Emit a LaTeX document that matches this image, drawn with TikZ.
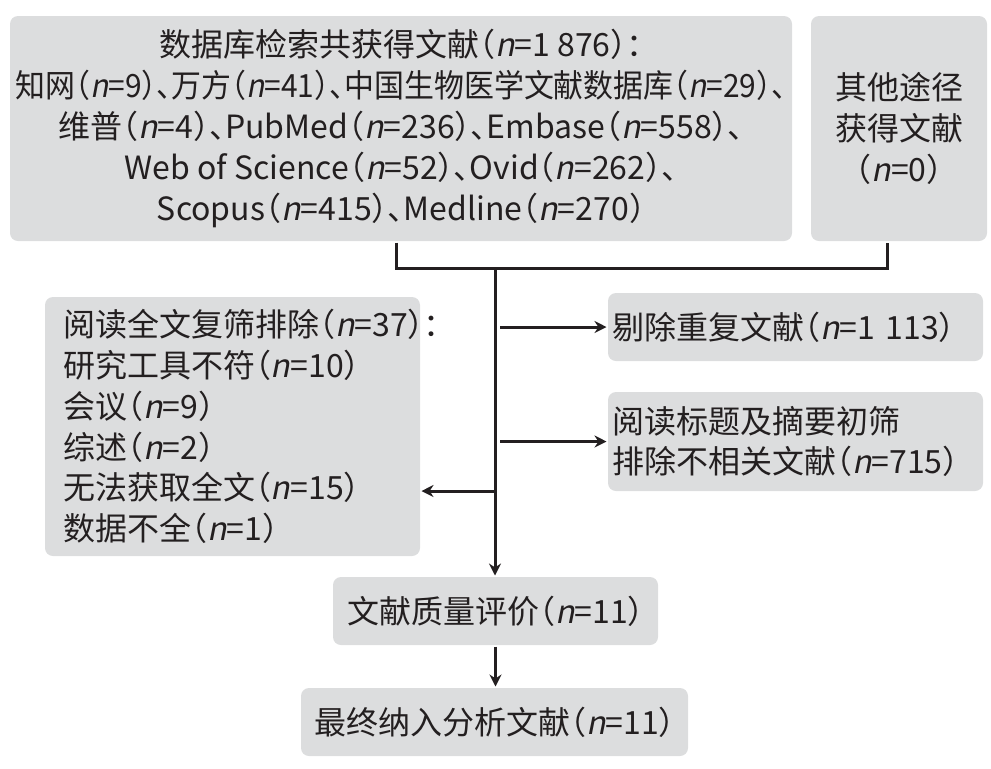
\documentclass[tikz,border=0pt]{standalone}
\usepackage{fontspec}
\setmainfont{Noto Sans CJK SC}[AutoFakeSlant=0.2,RawFeature=+halt]
\usetikzlibrary{arrows.meta}
\definecolor{boxgray}{HTML}{DCDDDE}
\definecolor{inkgray}{HTML}{231F20}
\newcommand{\nn}{\textit{n}}

\begin{document}
\begin{tikzpicture}[x=0.5pt,y=-0.5pt,->,>={Stealth[length=6pt,width=6pt]},line width=1.5pt,draw=inkgray,
  box/.style={draw=none,fill=boxgray,rounded corners=4pt,inner sep=0pt,text=inkgray,font=\fontsize{16}{20.4}\selectfont}]

    \useasboundingbox (0,0) rectangle (991,768);

    \node[box, minimum width=391pt, minimum height=112.5pt, align=center] (db) at (401,128.5)
        {数据库检索共获得文献（\nn=1 876）：\\
         \scalebox{0.935}[1]{知网（\nn=9）、万方（\nn=41）、中国生物医学文献数据库（\nn=29）、}\\
         维普（\nn=4）、PubMed（\nn=236）、Embase（\nn=558）、\\
         Web of Science（\nn=52）、Ovid（\nn=262）、\\
         Scopus（\nn=415）、Medline（\nn=270）};
    \node[box, minimum width=88pt, minimum height=112.5pt, align=center] (other) at (899,128.5)
        {其他途径\\获得文献\\（\nn=0）};

    \node[box, text width=169.5pt, inner xsep=9pt, minimum height=129.5pt, align=left] (full) at (232.5,426.5)
        {阅读全文复筛排除（\nn=37）：\\
         研究工具不符（\nn=10）\\
         会议（\nn=9）\\
         综述（\nn=2）\\
         无法获取全文（\nn=15）\\
         数据不全（\nn=1）};
    \node[box, text width=183.5pt, inner xsep=2pt, minimum height=34pt, align=left] (dup) at (795.5,327)
        {剔除重复文献（\nn=1 113）};
    \node[box, text width=183.5pt, inner xsep=2pt, minimum height=49.5pt, align=left] (title) at (795.5,441.5)
        {阅读标题及摘要初筛\\排除不相关文献（\nn=715）};

    \node[box, minimum width=162.5pt, minimum height=34pt] (qual) at (495.5,611) {文献质量评价（\nn=11）};
    \node[box, minimum width=193.5pt, minimum height=34pt] (final) at (494.5,722) {最终纳入分析文献（\nn=11）};

    \coordinate (join) at (495,268);
    \coordinate (trunk) at (500,0);
    \coordinate (out) at (495,491);

    % merge both sources into the trunk
    \draw[-] ([xshift=-2.5pt]db.south) |- (join) -| ([xshift=-6pt]other.south);
    \draw (join) -- (join |- qual.north);

    \draw (trunk |- dup.west) -- (dup.west);
    \draw (trunk |- title.west) -- (title.west);
    \draw (out) -- (out -| full.east);

    \draw (qual.south) -- (qual.south |- final.north);
\end{tikzpicture}
\end{document}
